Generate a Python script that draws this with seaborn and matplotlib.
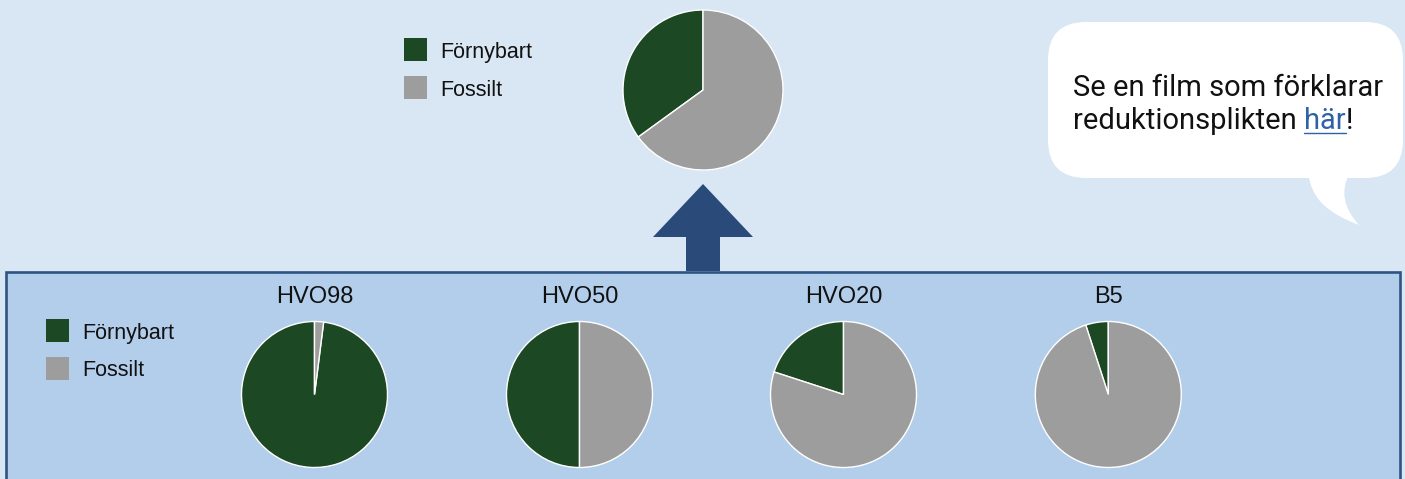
import numpy as np
import pandas as pd
import matplotlib
matplotlib.use("Agg")
import matplotlib.pyplot as plt
import seaborn as sns
from matplotlib.patches import Rectangle, Polygon, FancyBboxPatch, PathPatch
from matplotlib.path import Path

# ---- data -------------------------------------------------------------
shares = ["Förnybart", "Fossilt"]
fuels = ["HVO98", "HVO50", "HVO20", "B5"]
renewable = [98, 50, 20, 5]
fossil = [2, 50, 80, 95]
mix_renewable = 35
mix_fossil = 65

bubble_line1 = "Se en film som förklarar"
bubble_line2 = "reduktionsplikten "
bubble_link = "här"
bubble_end = "!"

# ---- style ------------------------------------------------------------
sns.set_theme(style="white")
plt.rcParams["font.family"] = ["Liberation Sans", "DejaVu Sans"]

GREEN = "#1c4823"
GREY = "#9d9d9d"
palette = sns.color_palette([GREEN, GREY])
BG = "#d9e6f3"
BOX = "#b3ceea"
BORDER = "#2e5483"
ARROW = "#2a4b79"
LINK = "#2d62a6"

W, H = 1405, 479
fig = plt.figure(figsize=(W / 100, H / 100), dpi=100, facecolor=BG)

# full-figure canvas in pixel coordinates
canvas = fig.add_axes([0, 0, 1, 1], zorder=0)
canvas.set_xlim(0, W)
canvas.set_ylim(H, 0)
canvas.axis("off")
canvas.set_facecolor(BG)

# lower panel
canvas.add_patch(Rectangle((6, 272), 1393.5, 260, facecolor=BOX,
                           edgecolor=BORDER, linewidth=1.9, zorder=1))

# upward arrow
canvas.add_patch(Polygon([(703, 184), (753, 237), (720, 237), (720, 271),
                          (686, 271), (686, 237), (653, 237)],
                         closed=True, facecolor=ARROW, edgecolor="none", zorder=2))

# speech bubble with tail
canvas.add_patch(FancyBboxPatch((1048, 22), 355, 156,
                                boxstyle="round,pad=0,rounding_size=38",
                                facecolor="white", edgecolor="none", zorder=2))
tail = Path([(1308, 170), (1310, 200), (1330, 214), (1359, 225),
             (1345, 210), (1338, 190), (1352, 170), (1308, 170)],
            [Path.MOVETO, Path.CURVE4, Path.CURVE4, Path.CURVE4,
             Path.CURVE4, Path.CURVE4, Path.CURVE4, Path.CLOSEPOLY])
canvas.add_patch(PathPatch(tail, facecolor="white", edgecolor="none", zorder=2))

# bubble text
bfont = dict(family=["Roboto", "DejaVu Sans"], fontsize=21, color="#111111")
canvas.text(1073, 96, bubble_line1, va="baseline", ha="left", zorder=3, **bfont)
renderer = fig.canvas.get_renderer()


def text_width(s):
    t = canvas.text(0, 0, s, **bfont)
    w = t.get_window_extent(renderer).width
    t.remove()
    return w


x0 = 1073
y2 = 129
canvas.text(x0, y2, bubble_line2, va="baseline", ha="left", zorder=3, **bfont)
x_link = x0 + text_width(bubble_line2 + "x") - text_width("x")
link_w = text_width(bubble_link)
canvas.text(x_link, y2, bubble_link, va="baseline", ha="left", zorder=3,
            **{**bfont, "color": LINK})
canvas.plot([x_link, x_link + link_w], [y2 + 4, y2 + 4], color=LINK, lw=1.0, zorder=3)
x_end = x0 + text_width(bubble_line2 + bubble_link + bubble_end) - text_width(bubble_end)
canvas.text(x_end, y2, bubble_end, va="baseline", ha="left", zorder=3, **bfont)


# legends
def legend(x, y_top):
    for i, (lab, col) in enumerate(zip(shares, palette)):
        y = y_top + i * 38
        canvas.add_patch(Rectangle((x, y), 23, 23, facecolor=col, edgecolor="none", zorder=3))
        canvas.text(x + 36, y + 11.5 + 8, lab, va="baseline", ha="left",
                    fontsize=15.5, color="#111111", zorder=3)


legend(404, 38)
legend(46, 319)


# pies
def pie_at(cx, cy, r, values):
    pad = 1.03
    rr = r * pad
    ax = fig.add_axes([(cx - rr) / W, 1 - (cy + rr) / H, 2 * rr / W, 2 * rr / H], zorder=4)
    ax.pie(values, colors=palette, startangle=90, counterclock=True, radius=1,
           wedgeprops=dict(edgecolor="white", linewidth=1.0))
    ax.set_xlim(-pad, pad)
    ax.set_ylim(-pad, pad)
    ax.set_aspect("equal")
    ax.axis("off")
    return ax


pie_at(703, 90, 80, [mix_renewable, mix_fossil])

centers = [314.5, 579.5, 843.5, 1108.3]
for cx, name, ren, fos in zip(centers, fuels, renewable, fossil):
    pie_at(cx, 394.5, 73, [ren, fos])
    canvas.text(cx, 303, name, ha="center", va="baseline", fontsize=17,
                color="#111111", zorder=3)

fig.savefig("out.png", dpi=100, facecolor=BG)
